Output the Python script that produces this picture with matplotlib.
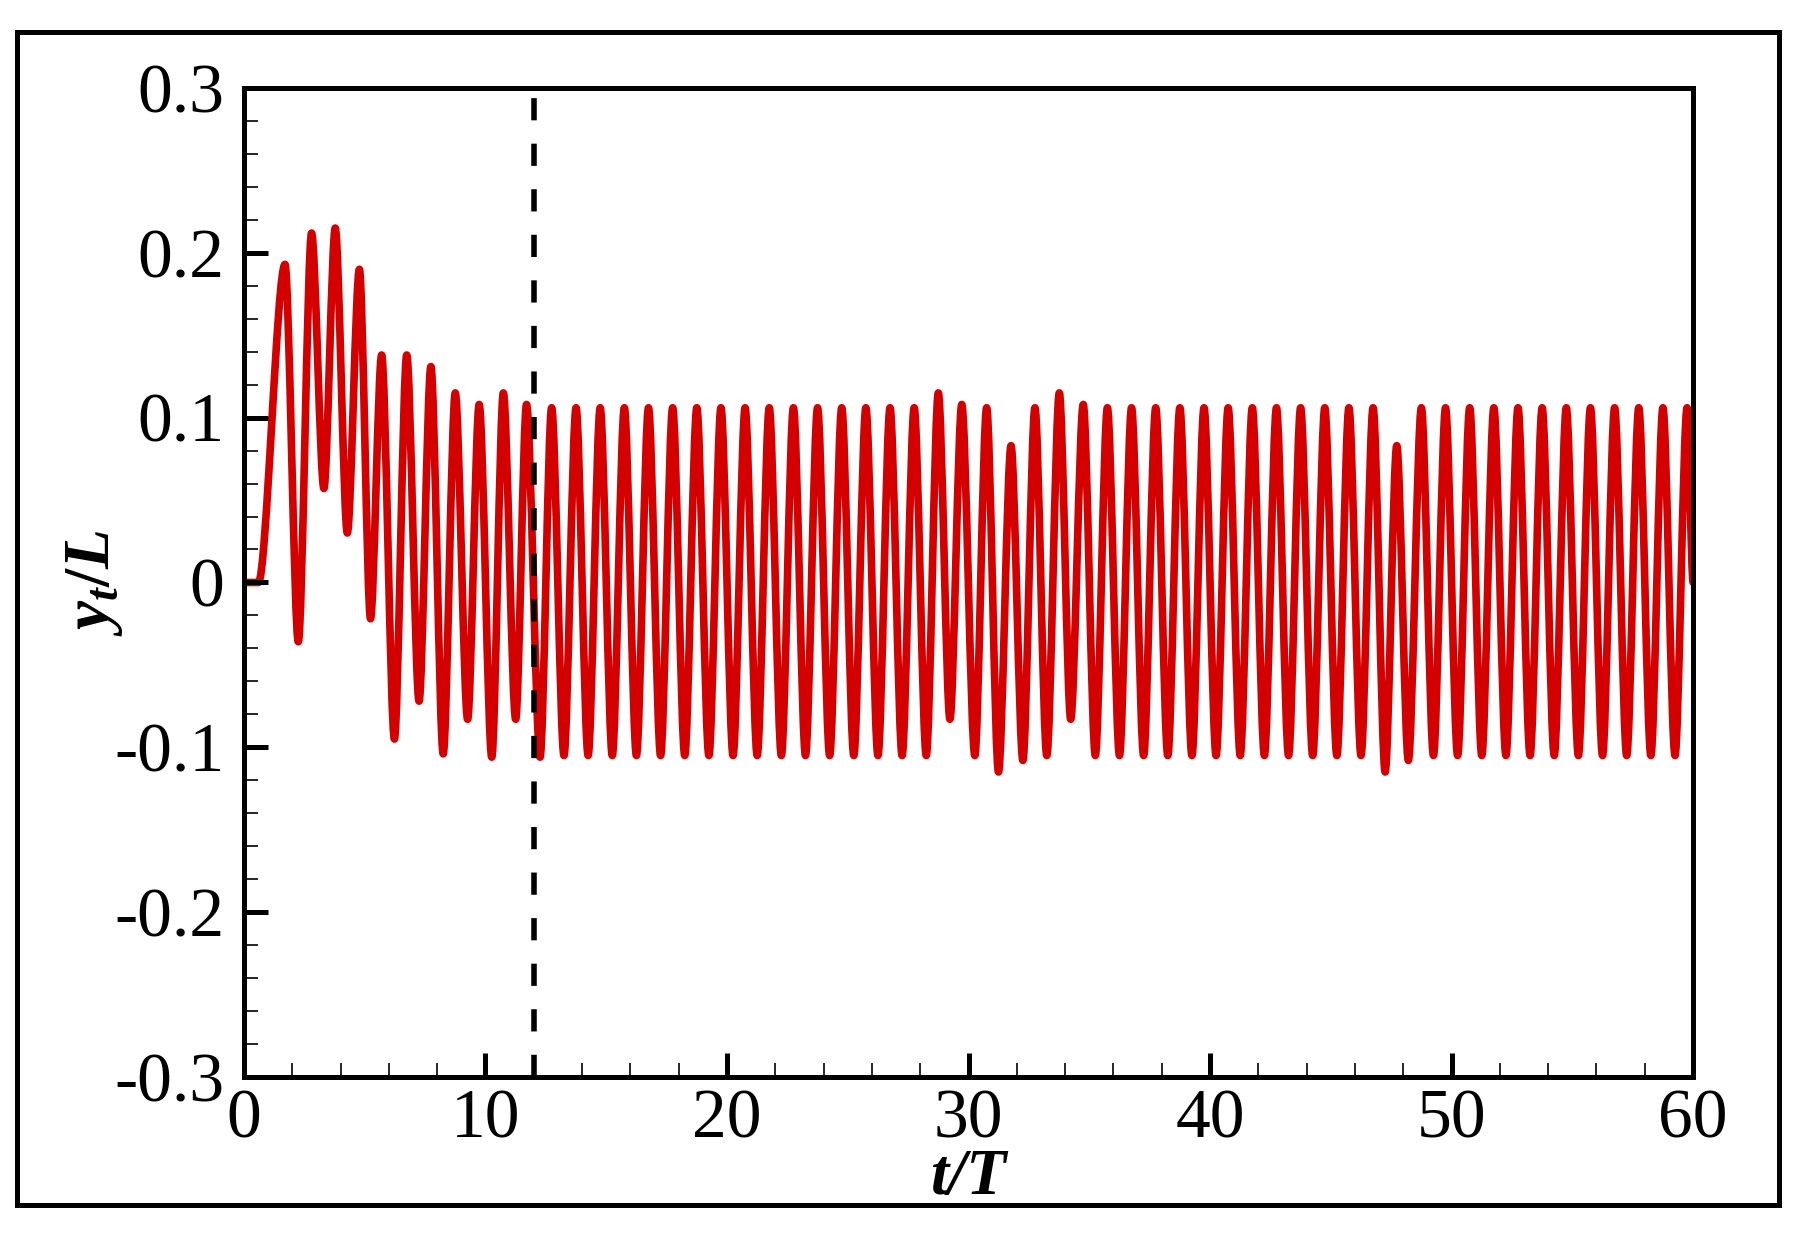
import numpy as np
import matplotlib.pyplot as plt
from matplotlib.path import Path
from matplotlib.patches import PathPatch, Rectangle
from matplotlib.ticker import AutoMinorLocator

plt.rcParams['font.family'] = ['Liberation Serif', 'DejaVu Serif']
plt.rcParams['mathtext.fontset'] = 'custom'
plt.rcParams['mathtext.it'] = 'Liberation Serif:italic:bold'
plt.rcParams['mathtext.rm'] = 'Liberation Serif:bold'
plt.rcParams['mathtext.bf'] = 'Liberation Serif:bold'
plt.rcParams['axes.unicode_minus'] = False

# flat start before the body begins to move
start_t = [0.0, 0.6]
start_y = [0.0, 0.0]

# crests of y_t/L
peak_t = [1.70, 2.80, 3.78, 4.78, 5.70, 6.74, 7.74, 8.75, 9.74, 10.74, 11.70, 12.74,
          13.75, 14.75, 15.75, 16.75, 17.75, 18.75, 19.75, 20.75, 21.75, 22.75,
          23.75, 24.75, 25.75, 26.75, 27.75,
          28.75, 29.72, 30.75, 31.76, 32.75, 33.76, 34.75,
          35.75, 36.75, 37.75, 38.75, 39.75, 40.75, 41.75, 42.75, 43.75, 44.75,
          45.75, 46.75,
          47.73,
          48.75, 49.75, 50.75, 51.75, 52.75, 53.75, 54.75, 55.75, 56.75, 57.75,
          58.75, 59.75]
peak_y = [0.193, 0.212, 0.215, 0.190, 0.138, 0.138, 0.131, 0.115, 0.108, 0.115, 0.108, 0.106,
          0.106, 0.106, 0.106, 0.106, 0.106, 0.106, 0.106, 0.106, 0.106, 0.106,
          0.106, 0.106, 0.106, 0.106, 0.106,
          0.115, 0.108, 0.106, 0.083, 0.106, 0.115, 0.108,
          0.106, 0.106, 0.106, 0.106, 0.106, 0.106, 0.106, 0.106, 0.106, 0.106,
          0.106, 0.106,
          0.083,
          0.106, 0.106, 0.106, 0.106, 0.106, 0.106, 0.106, 0.106, 0.106, 0.106,
          0.106, 0.106]

# troughs
trough_t = [2.25, 3.31, 4.28, 5.24, 6.23, 7.25, 8.25, 9.26, 10.26, 11.25, 12.26,
            13.25, 14.25, 15.25, 16.25, 17.25, 18.25, 19.25, 20.25, 21.25, 22.25,
            23.25, 24.25, 25.25, 26.25, 27.25, 28.25,
            29.23, 30.26, 31.24, 32.25, 33.24, 34.23,
            35.25, 36.25, 37.25, 38.25, 39.25, 40.25, 41.25, 42.25, 43.25, 44.25,
            45.25, 46.25,
            47.25, 48.21,
            49.25, 50.25, 51.25, 52.25, 53.25, 54.25, 55.25, 56.25, 57.25, 58.25,
            59.25]
trough_y = [-0.036, 0.057, 0.030, -0.022, -0.095, -0.072, -0.104, -0.083, -0.106, -0.083, -0.106,
            -0.105, -0.105, -0.105, -0.105, -0.105, -0.105, -0.105, -0.105, -0.105, -0.105,
            -0.105, -0.105, -0.105, -0.105, -0.105, -0.105,
            -0.083, -0.105, -0.115, -0.108, -0.105, -0.083,
            -0.105, -0.105, -0.105, -0.105, -0.105, -0.105, -0.105, -0.105, -0.105, -0.105,
            -0.105, -0.105,
            -0.115, -0.108,
            -0.105, -0.105, -0.105, -0.105, -0.105, -0.105, -0.105, -0.105, -0.105, -0.105,
            -0.105]

end_t = [60.0]
end_y = [0.0]

t_switch = 12.0

x_ticks = [0, 10, 20, 30, 40, 50, 60]
x_labels = ['0', '10', '20', '30', '40', '50', '60']
y_ticks = [-0.3, -0.2, -0.1, 0.0, 0.1, 0.2, 0.3]
y_labels = ['-0.3', '-0.2', '-0.1', '0', '0.1', '0.2', '0.3']

t = np.concatenate([start_t, peak_t, trough_t, end_t])
y = np.concatenate([start_y, peak_y, trough_y, end_y])
order = np.argsort(t)
t, y = t[order], y[order]

# join the extrema with flat-tangent bezier halves so the wave looks round
k = 0.3
verts = [(t[0], y[0])]
codes = [Path.MOVETO]
for i in range(1, len(t)):
    dt = t[i] - t[i - 1]
    verts += [(t[i - 1] + k * dt, y[i - 1]), (t[i] - k * dt, y[i]), (t[i], y[i])]
    codes += [Path.CURVE4] * 3

fig = plt.figure(figsize=(18.11, 12.39), dpi=100)
ax = fig.add_axes([0.1347, 0.1308, 0.8002, 0.7982])

ax.add_patch(PathPatch(Path(verts, codes), fill=False, edgecolor='#d40000', lw=5.5,
                       capstyle='round', joinstyle='round'))
ax.axvline(t_switch, color='black', lw=4, linestyle=(0, (4, 4.2)))

ax.set_xlim(0, 60)
ax.set_ylim(-0.3, 0.3)
ax.set_xticks(x_ticks)
ax.set_xticklabels(x_labels)
ax.set_yticks(y_ticks)
ax.set_yticklabels(y_labels)
ax.xaxis.set_minor_locator(AutoMinorLocator(5))
ax.yaxis.set_minor_locator(AutoMinorLocator(5))
ax.tick_params(which='both', direction='in', top=False, right=False, labelsize=50)
ax.tick_params(which='major', length=17, width=3.6)
ax.tick_params(which='minor', length=10, width=1.2)
ax.tick_params(axis='y', pad=14)
ax.tick_params(axis='x', pad=9)
for s in ax.spines.values():
    s.set_linewidth(3.6)

ax.set_xlabel('t/T', fontsize=47, fontweight='bold', fontstyle='italic')
ax.xaxis.set_label_coords(0.5, -0.072)
ax.set_ylabel(r'$y_t/L$', fontsize=47)
ax.yaxis.set_label_coords(-0.082, 0.5)

# outer frame around the whole picture
fig.add_artist(Rectangle((0.0094, 0.0274), 0.9729, 0.9468, transform=fig.transFigure,
                         fill=False, lw=3.6, edgecolor='black'))

fig.savefig('out.png', dpi=100)
